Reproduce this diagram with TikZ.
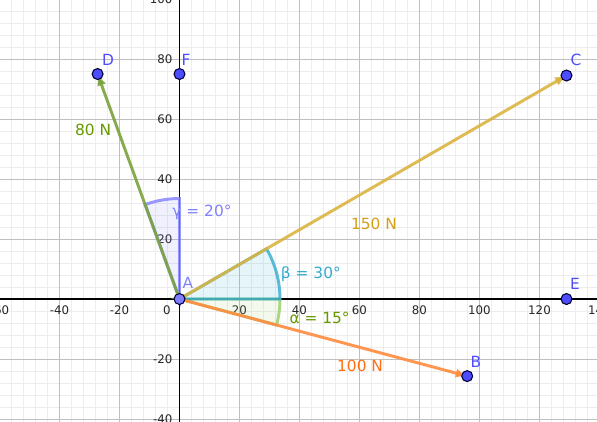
\documentclass[tikz,border=0pt]{standalone}
\usepackage{fontspec}
\setmainfont{DejaVu Sans}
\usetikzlibrary{arrows.meta}
\usetikzlibrary{positioning}

\definecolor{ptblue}{RGB}{77,77,255}
\definecolor{ptlight}{RGB}{128,128,255}
\definecolor{vecgreen}{RGB}{122,163,61}
\definecolor{labgreen}{RGB}{102,153,0}
\definecolor{vecgold}{RGB}{219,180,64}
\definecolor{labgold}{RGB}{212,160,23}
\definecolor{vecorange}{RGB}{255,140,64}
\definecolor{laborange}{RGB}{255,110,20}
\definecolor{angcyan}{RGB}{51,170,204}
\definecolor{anglime}{RGB}{153,204,102}

\begin{document}
\begin{tikzpicture}[x=0.05cm,y=0.05cm,
  lbl/.style={font=\fontsize{7.3}{8.8}\selectfont,inner sep=0pt},
  ticklbl/.style={font=\fontsize{5.6}{6.7}\selectfont,inner sep=0pt,text=black!85},
  pt/.style={circle,fill=ptblue,draw=black!80!blue,line width=0.5pt,minimum size=5.2pt,inner sep=0pt},
  vec/.style={line width=1.4pt,draw opacity=0.9,-{Latex[length=5.5pt,width=4.4pt]}},
  sector/.style={line width=1.4pt,draw opacity=0.8,fill opacity=0.12}]
\useasboundingbox (-59.83,-40.67) rectangle (139.17,99.67);
\clip (-59.83,-40.67) rectangle (139.17,99.67);

% grid and axes
\draw[gray!14,line width=0.35pt] (-60,-44) grid[step=0.2cm] (140,100);
\draw[gray!50,line width=0.45pt] (-60,-44) grid[step=1cm] (140,100);
\draw[black,line width=0.5pt] (-60,0) -- (140,0);
\draw[black,line width=0.5pt] (0,-41) -- (0,100);

\node[ticklbl,anchor=north] at (-60,-2.2) {-60};
\node[ticklbl,anchor=north] at (-40,-2.2) {-40};
\node[ticklbl,anchor=north] at (-20,-2.2) {-20};
\node[ticklbl,anchor=north east] at (-2.8,-2.2) {0};
\node[ticklbl,anchor=north] at (20,-2.2) {20};
\node[ticklbl,anchor=north] at (40,-2.2) {40};
\node[ticklbl,anchor=north] at (60,-2.2) {60};
\node[ticklbl,anchor=north] at (80,-2.2) {80};
\node[ticklbl,anchor=north] at (100,-2.2) {100};
\node[ticklbl,anchor=north] at (120,-2.2) {120};
\node[ticklbl,anchor=north] at (140,-2.2) {140};
\node[ticklbl,anchor=east] at (-2.2,100) {100};
\node[ticklbl,anchor=east] at (-2.2,80) {80};
\node[ticklbl,anchor=east] at (-2.2,60) {60};
\node[ticklbl,anchor=east] at (-2.2,40) {40};
\node[ticklbl,anchor=east] at (-2.2,20) {20};
\node[ticklbl,anchor=east] at (-2.2,-20) {-20};
\node[ticklbl,anchor=east] at (-2.2,-40) {-40};

% points
\coordinate (A) at (0,0);
\coordinate (B) at (95.9,-25.7);
\coordinate (C) at (129.0,74.5);
\coordinate (D) at (-27.3,75);
\coordinate (E) at (129.0,0);
\coordinate (F) at (0,75);

% angles
\draw[sector,draw=ptlight,fill=ptlight] (A) -- ++(90:33.5) arc[start angle=90,end angle=110,radius=33.5] -- cycle;
\draw[sector,draw=anglime,fill=anglime] (A) -- ++(-15:33.5) arc[start angle=-15,end angle=0,radius=33.5] -- cycle;
\draw[sector,draw=angcyan,fill=angcyan] (A) -- ++(0:33.5) arc[start angle=0,end angle=30,radius=33.5] -- cycle;

% forces
\draw[vec,vecgreen] (A) -- (D);
\draw[vec,vecgold] (A) -- (C);
\draw[vec,vecorange] (A) -- (B);

\node[pt,fill=ptlight] (pA) at (A) {};
\node[pt] (pB) at (B) {};
\node[pt] (pC) at (C) {};
\node[pt] (pD) at (D) {};
\node[pt] (pE) at (E) {};
\node[pt] (pF) at (F) {};

\node[lbl,text=ptlight] (lA) at (2.8,5.3) {A};
\node[lbl,text=ptblue] (lB) at (98.8,-21) {B};
\node[lbl,text=ptblue] (lC) at (132.2,79.7) {C};
\node[lbl,text=ptblue] (lD) at (-23.8,79.7) {D};
\node[lbl,text=ptblue] (lE) at (131.8,5) {E};
\node[lbl,text=ptblue] (lF) at (2.2,79.7) {F};

\node[lbl,text=labgreen] (fD) at (-28.8,56.3) {80 N};
\node[lbl,text=labgold] (fC) at (64.8,25) {150 N};
\node[lbl,text=laborange] (fB) at (60.2,-22.3) {100 N};

\node[lbl,text=ptlight] (gam) at (7.5,29) {γ = 20°};
\node[lbl,text=angcyan] (bet) at (43.8,8.3) {β = 30°};
\node[lbl,text=labgreen] (alp) at (46.7,-6.3) {α = 15°};

\end{tikzpicture}
\end{document}
